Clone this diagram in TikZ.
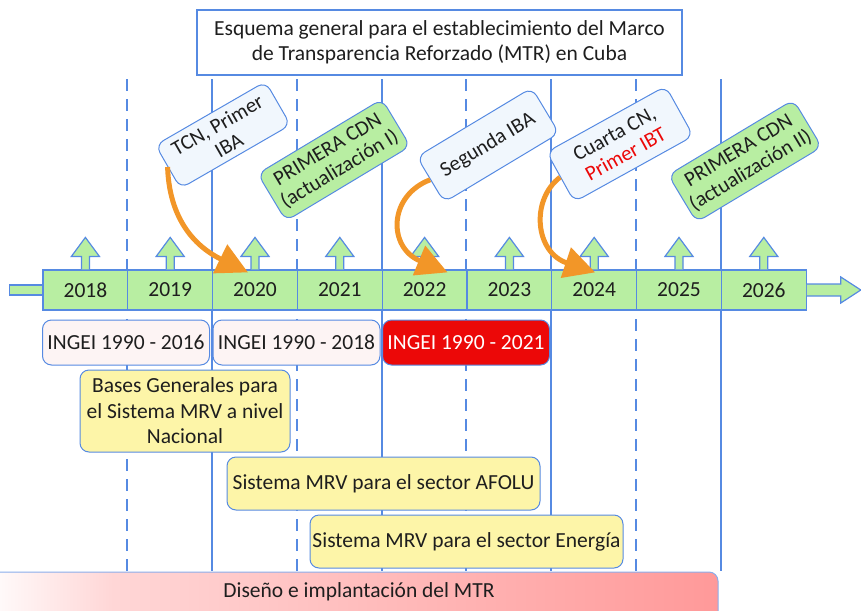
\documentclass[tikz,border=0pt]{standalone}
\usepackage{fontspec}
\setmainfont{Carlito}
\usetikzlibrary{arrows.meta,backgrounds}

\definecolor{lineblue}{RGB}{86,138,226}
\definecolor{yeargreen}{RGB}{184,238,162}
\definecolor{notewhite}{RGB}{241,247,253}
\definecolor{ingeiwhite}{RGB}{253,244,244}
\definecolor{mrvyellow}{RGB}{253,245,168}
\definecolor{ingeired}{RGB}{236,8,8}
\definecolor{arroworange}{RGB}{242,150,40}
\definecolor{textdark}{RGB}{30,30,30}
\pgfdeclarehorizontalshading{mtrshade}{100bp}{color(0bp)=(white); color(25bp)=(white);
  color(34bp)=(red!16!white); color(75bp)=(red!40!white); color(100bp)=(red!40!white)}

\begin{document}
\begin{tikzpicture}[x=1pt,y=-1pt,
  font=\fontsize{21.5}{25.5}\selectfont, text=textdark,
  yearbox/.style={draw=lineblue,line width=1.2pt,fill=yeargreen,minimum width=84.8pt,
    minimum height=40pt,inner sep=0pt},
  upmark/.style={draw=lineblue,line width=1.2pt,fill=yeargreen},
  vsolid/.style={lineblue,line width=2pt},
  vdashed/.style={lineblue,line width=2pt,dash pattern=on 12pt off 8pt},
  note/.style={draw=lineblue,line width=1pt,rounded corners=9pt,fill=notewhite,align=center,
    inner sep=2pt,font=\fontsize{21}{23}\selectfont},
  cdnnote/.style={note,fill=yeargreen},
  ingei/.style={draw=lineblue,line width=1pt,rounded corners=9pt,fill=ingeiwhite,
    minimum height=45pt,minimum width=167pt,inner sep=0pt},
  mrv/.style={draw=lineblue,line width=1pt,rounded corners=9pt,fill=mrvyellow,align=center,
    inner sep=0pt},
  hit/.style={arroworange,line width=5pt,-{Triangle[width=31pt,length=31pt]}}]
  \useasboundingbox (0,0) rectangle (861,610);
  \clip (0,0) rectangle (861,610);

  % Title
  \node[draw=lineblue,line width=1.2pt,fill=white,minimum width=485pt,minimum height=65pt,
    align=center] (title) at (439.5,42.5)
    {Esquema general para el establecimiento del Marco\\de Transparencia Reforzado (MTR) en Cuba};

  % Timeline
  \foreach \yr [count=\k from 0] in {2018,...,2026}
    \node[yearbox] (y\yr) at ({85.4+84.8*\k},290) {\yr};
  \foreach \yr in {2018,...,2026}
    \draw[upmark] ([xshift=-4pt]y\yr.north) -- ++(0,-13) -- ++(-10,0) -- ++(14,-19)
      -- ++(14,19) -- ++(-10,0) -- ++(0,13);
  \draw[upmark] (y2018.west) ++(0,-5) -- ++(-33,0) -- ++(0,10) -- ++(33,0);
  \draw[upmark] (y2026.east) ++(0,-6) -- ++(34,0) -- ++(0,-7) -- ++(20,13) -- ++(-20,13)
    -- ++(0,-7) -- ++(-34,0);

  % Year separators
  \begin{scope}[on background layer]
    \foreach \yr in {2020,2022,2024,2026}
      \draw[vsolid] (y\yr.north west) ++(0,-190) -- ++(0,492);
    \foreach \yr in {2019,2021,2023,2025}
      \draw[vdashed] (y\yr.north west) ++(0,-190) -- ++(0,492);
  \end{scope}

  % Reports
  \node[note,rotate=30,minimum width=127pt,minimum height=50pt] (tcn) at (223,135) {TCN, Primer\\IBA};
  \node[cdnnote,rotate=31,minimum width=145pt,minimum height=55pt] (cdn1) at (334,160)
    {PRIMERA CDN\\(actualización I)};
  \node[note,rotate=31,minimum width=134pt,minimum height=53pt] (iba2) at (488,145) {Segunda IBA};
  \node[note,rotate=29,minimum width=136pt,minimum height=57pt] (cn4) at (620,144)
    {Cuarta CN,\\\textcolor{ingeired}{Primer IBT}};
  \node[cdnnote,rotate=31,minimum width=146pt,minimum height=55pt] (cdn2) at (745,161)
    {PRIMERA CDN\\(actualización II)};

  % Links to the timeline
  \draw[hit] (tcn.west) .. controls +(2,60) and +(-45,-22) .. ([xshift=-7pt,yshift=-3pt]y2020.north);
  \draw[hit] (iba2.west) .. controls +(-42,16) and +(-60,-25) .. ([xshift=23pt,yshift=-3pt]y2022.north);
  \draw[hit] (cn4.west) .. controls +(-30,23) and +(-60,-20) .. ([xshift=1pt,yshift=-3pt]y2024.north);

  % Inventories
  \node[ingei] (ing16) at (126,342.5) {INGEI 1990 - 2016};
  \node[ingei] (ing18) at (296.5,342.5) {INGEI 1990 - 2018};
  \node[ingei,fill=ingeired,text=white] (ing21) at (466,342.5) {INGEI 1990 - 2021};

  % MRV
  \node[mrv,minimum width=210pt,minimum height=82pt] (bases) at (185,411)
    {Bases Generales para\\el Sistema MRV a nivel\\Nacional};
  \node[mrv,minimum width=313pt,minimum height=53pt] (afolu) at (383.5,483.5)
    {Sistema MRV para el sector AFOLU};
  \node[mrv,minimum width=313pt,minimum height=53pt] (energia) at (466.5,541.5)
    {Sistema MRV para el sector Energía};

  % MTR
  \shadedraw[shading=mtrshade,draw=lineblue!70,line width=1pt,rounded corners=9pt]
    (-20,572) rectangle (718,640);
  \node (mtr) at (359,592) {Diseño e implantación del MTR};
\end{tikzpicture}
\end{document}
